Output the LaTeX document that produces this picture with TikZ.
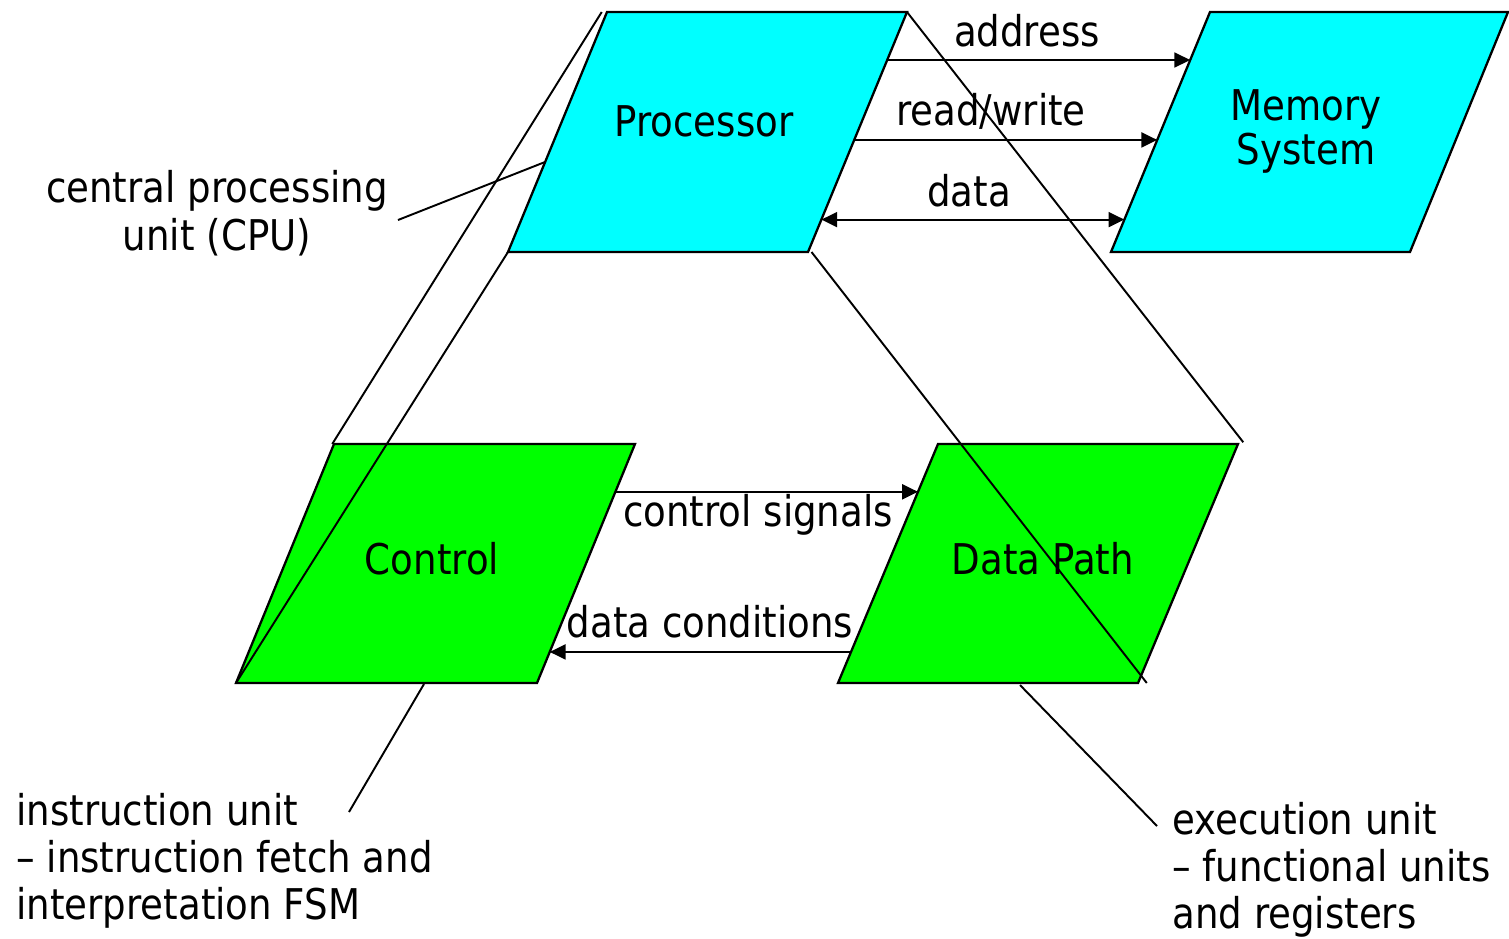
\documentclass[tikz,border=0pt]{standalone}
\usepackage{fontspec}
\setmainfont{DejaVu Sans}[FakeStretch=0.877]
\usetikzlibrary{arrows.meta,calc}
\definecolor{cpucyan}{HTML}{00FFFF}
\definecolor{unitgreen}{HTML}{00FF00}
\newcommand\diagfont{\fontsize{24.1pt}{26.9pt}\selectfont}
\tikzset{
  block/.style={draw=black, line width=1.3pt, line join=miter},
  proj/.style={draw=black, line width=1.1pt},
  sig/.style={draw=black, line width=1.1pt, -{Triangle[length=9pt,width=8.5pt]}},
  bisig/.style={draw=black, line width=1.1pt, {Triangle[length=9pt,width=8.5pt]}-{Triangle[length=9pt,width=8.5pt]}},
  lbl/.style={inner sep=0pt, font=\diagfont},
}
\begin{document}
\begin{tikzpicture}[x=0.02cm,y=-0.02cm]
\path[use as bounding box] (0,0) rectangle (1509,938);
% corners
\coordinate (Ptl) at (607,12);  \coordinate (Ptr) at (907,12);
\coordinate (Pbr) at (808,252); \coordinate (Pbl) at (508,252);
\coordinate (Mtl) at (1210,12); \coordinate (Mtr) at (1508,12);
\coordinate (Mbr) at (1410,252);\coordinate (Mbl) at (1111,252);
\coordinate (Ctl) at (334,444); \coordinate (Ctr) at (635,444);
\coordinate (Cbr) at (537,683); \coordinate (Cbl) at (236,683);
\coordinate (Dtl) at (938,444); \coordinate (Dtr) at (1238,444);
\coordinate (Dbr) at (1138,683);\coordinate (Dbl) at (838,683);
% shapes
\draw[block, fill=cpucyan] (Ptl)--(Ptr)--(Pbr)--(Pbl)--cycle;
\draw[block, fill=cpucyan] (Mtl)--(Mtr)--(Mbr)--(Mbl)--cycle;
\draw[block, fill=unitgreen] (Ctl)--(Ctr)--(Cbr)--(Cbl)--cycle;
\draw[block, fill=unitgreen] (Dtl)--(Dtr)--(Dbr)--(Dbl)--cycle;
% texts in shapes
\node[lbl, anchor=base] (proc) at (704,136) {Processor};
\node[lbl, anchor=base] (mem) at (1306,120) {\begin{tabular}[t]{@{}c@{}}Memory\\[-1.4pt]System\end{tabular}};
\node[lbl, anchor=base] (ctrl) at (432,574) {Control};
\node[lbl, anchor=base] (dpath) at (1043,574) {Data Path};
% signal connectors
\coordinate (a1) at ($(Ptr)!0.2!(Pbr)$);    \coordinate (a2) at ($(Mtl)!0.2!(Mbl)$);
\coordinate (r1) at ($(Ptr)!0.533!(Pbr)$);  \coordinate (r2) at ($(Mtl)!0.533!(Mbl)$);
\coordinate (d1) at ($(Ptr)!0.865!(Pbr)$);  \coordinate (d2) at ($(Mtl)!0.865!(Mbl)$);
\coordinate (c1) at ($(Ctr)!0.2!(Cbr)$);    \coordinate (c2) at ($(Dtl)!0.2!(Dbl)$);
\coordinate (k1) at ($(Ctr)!0.87!(Cbr)$);   \coordinate (k2) at ($(Dtl)!0.87!(Dbl)$);
\draw[sig] (a1) -- (a2);
\draw[sig] (r1) -- (r2);
\draw[bisig] (d1) -- (d2);
\draw[sig] (c1) -- (c2);
\draw[sig] (k2) -- (k1);
\node[lbl, anchor=base] (laddr) at (1027,46) {address};
\node[lbl, anchor=base] (lrw) at (991,125) {read/write};
\node[lbl, anchor=base] (ldata) at (969,206) {data};
\node[lbl, anchor=base] (lcs) at (758,526) {control signals};
\node[lbl, anchor=base] (ldc) at (710,637) {data conditions};
% side labels
\node[lbl, anchor=base] (cpu) at (217,202) {\begin{tabular}[t]{@{}c@{}}central processing\\[0.8pt]unit (CPU)\end{tabular}};
\node[lbl, anchor=base west] (iu) at (16,825) {\begin{tabular}[t]{@{}l@{}}instruction unit\\– instruction fetch and\\interpretation FSM\end{tabular}};
\node[lbl, anchor=base west] (eu) at (1172,834) {\begin{tabular}[t]{@{}l@{}}execution unit\\– functional units\\and registers\end{tabular}};
% pointer lines
\coordinate (cpuA) at (398,220); \coordinate (cpuB) at (545,162);
\coordinate (iuA) at (349,812);  \coordinate (iuB) at (424,684);
\coordinate (euA) at (1157,826); \coordinate (euB) at (1020,685);
\draw[proj] (cpuA) -- (cpuB);
\draw[proj] (iuA) -- (iuB);
\draw[proj] (euA) -- (euB);
% projection lines
\draw[proj] ([xshift=-3pt]Ptl) -- ([xshift=-1pt]Ctl);
\draw[proj] (Pbl) -- (Cbl);
\draw[proj] (Ptr) -- ([xshift=3pt,yshift=1pt]Dtr);
\draw[proj] ([xshift=2pt]Pbr) -- ([xshift=5pt]Dbr);
\end{tikzpicture}
\end{document}
